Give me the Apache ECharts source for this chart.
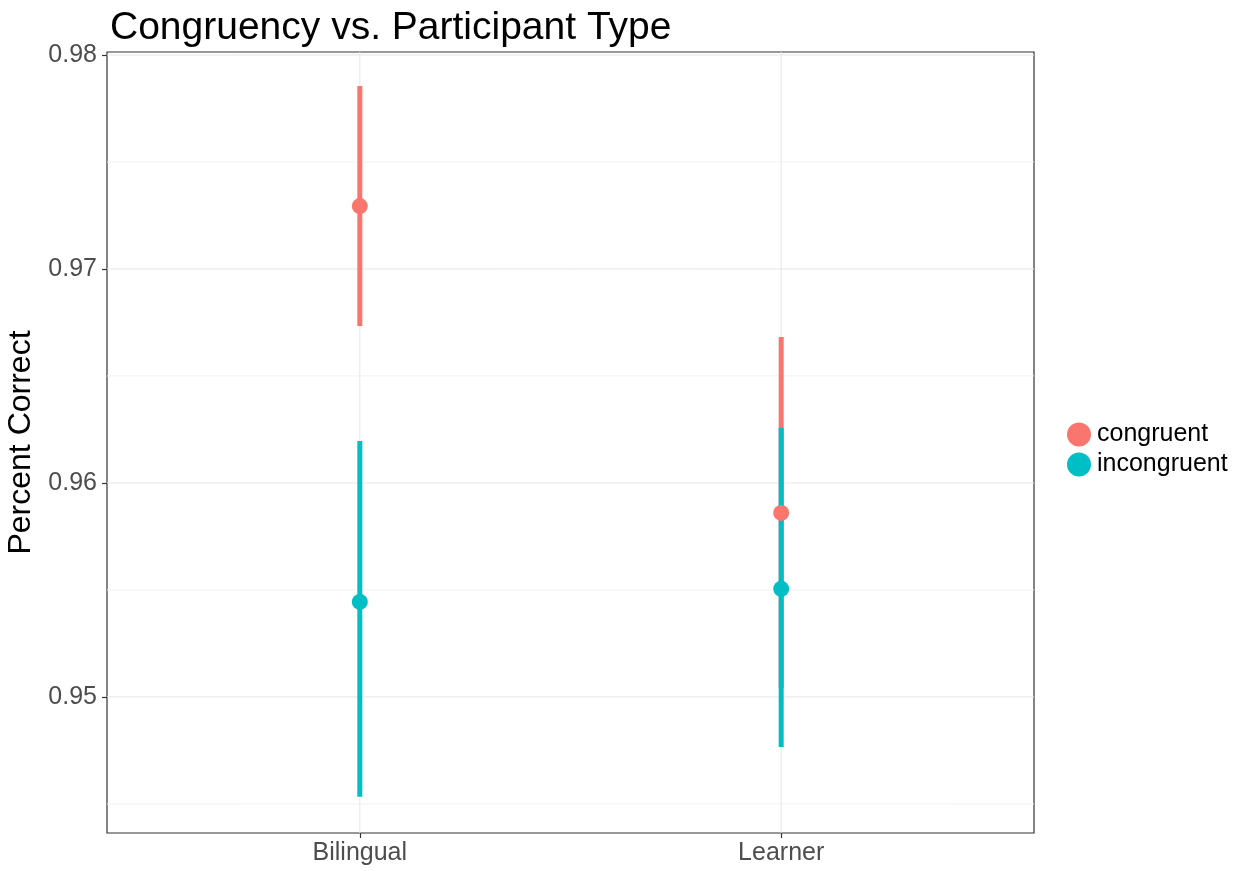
<!DOCTYPE html>
<html>
<head>
<meta charset="utf-8">
<script src="https://cdn.jsdelivr.net/npm/echarts@6/dist/echarts.min.js"></script>
<style>html,body{margin:0;padding:0;background:#fff;}#c{width:1245px;height:871px;}</style>
</head>
<body>
<div id="c"></div>
<script>
const categories = ['Bilingual', 'Learner'];
const groups = ['congruent', 'incongruent'];
const congruentMean = [0.97294, 0.9586];
const congruentLow = [0.96734, 0.9504];
const congruentHigh = [0.97855, 0.96682];
const incongruentMean = [0.95444, 0.95505];
const incongruentLow = [0.94533, 0.94766];
const incongruentHigh = [0.96196, 0.96257];
const yTicks = [0.95, 0.96, 0.97, 0.98];
const yMinor = [0.945, 0.955, 0.965, 0.975];
const yRange = [0.94364, 0.98014];
const xRange = [0.4, 2.6];
const colors = ['#F8766D', '#00BFC4'];

const xPos = categories.map((c, i) => i + 1);
const FONT = '"Liberation Sans", Arial, sans-serif';

function hLines(vals, color) {
  return {
    type: 'custom', silent: true, z: 1,
    data: vals.map(v => [v]),
    renderItem: function (params, api) {
      const v = api.value(0);
      const p1 = api.coord([xRange[0], v]);
      const p2 = api.coord([xRange[1], v]);
      return { type: 'line', shape: { x1: p1[0], y1: p1[1], x2: p2[0], y2: p2[1] },
        style: { stroke: color, lineWidth: 1 } };
    }
  };
}
function vLines(vals, color) {
  return {
    type: 'custom', silent: true, z: 1,
    data: vals.map(v => [v]),
    renderItem: function (params, api) {
      const v = api.value(0);
      const p1 = api.coord([v, yRange[0]]);
      const p2 = api.coord([v, yRange[1]]);
      return { type: 'line', shape: { x1: p1[0], y1: p1[1], x2: p2[0], y2: p2[1] },
        style: { stroke: color, lineWidth: 1 } };
    }
  };
}
function ranges(name, low, high, color) {
  return {
    name: name, type: 'custom', z: 3,
    data: xPos.map((x, i) => [x, low[i], high[i]]),
    renderItem: function (params, api) {
      const p1 = api.coord([api.value(0), api.value(1)]);
      const p2 = api.coord([api.value(0), api.value(2)]);
      return { type: 'line', shape: { x1: p1[0], y1: p1[1], x2: p2[0], y2: p2[1] },
        style: { stroke: color, lineWidth: 5 } };
    }
  };
}
function points(name, mean, color) {
  return {
    name: name, type: 'scatter', z: 5, symbol: 'circle', symbolSize: 16,
    itemStyle: { color: color, opacity: 1 },
    data: xPos.map((x, i) => [x, mean[i]])
  };
}

const chart = echarts.init(document.getElementById('c'));
chart.setOption({
  animation: false,
  backgroundColor: '#fff',
  title: {
    text: 'Congruency vs. Participant Type', left: 105, top: 4,
    textStyle: { fontFamily: FONT, fontSize: 39, fontWeight: 'normal', color: '#000' }
  },
  legend: {
    data: groups.map((g, i) => ({ name: g, icon: 'circle', itemStyle: { color: colors[i] } })),
    orient: 'vertical', left: 1062, top: 417, itemWidth: 24, itemHeight: 24, itemGap: 5,
    textStyle: { fontFamily: FONT, fontSize: 25, color: '#000', padding: [0, 0, 0, 1] }
  },
  grid: { left: 107, right: 211, top: 52, bottom: 38, show: true, borderColor: '#333', borderWidth: 1.2, containLabel: false, outerBoundsMode: 'none' },
  xAxis: {
    type: 'value', min: xRange[0], max: xRange[1],
    splitLine: { show: false },
    axisLine: { show: false },
    axisTick: { show: true, length: 5, customValues: xPos, lineStyle: { color: '#333', width: 1.2 } },
    axisLabel: { customValues: xPos, formatter: v => categories[Math.round(v) - 1] || '', fontFamily: FONT, fontSize: 25, color: '#4d4d4d', margin: 8 }
  },
  yAxis: {
    type: 'value', min: yRange[0], max: yRange[1],
    name: 'Percent Correct', nameLocation: 'middle', nameGap: 67, nameRotate: 90,
    nameTextStyle: { fontFamily: FONT, fontSize: 32, color: '#000' },
    splitLine: { show: false },
    axisLine: { show: false },
    axisTick: { show: true, length: 5, customValues: yTicks, lineStyle: { color: '#333', width: 1.2 } },
    axisLabel: { customValues: yTicks, formatter: v => v.toFixed(2), fontFamily: FONT, fontSize: 25, color: '#4d4d4d', margin: 10 }
  },
  series: [
    hLines(yMinor, '#f2f2f2'),
    hLines(yTicks, '#e6e6e6'),
    vLines(xPos, '#e6e6e6'),
    ranges(groups[0], congruentLow, congruentHigh, colors[0]),
    ranges(groups[1], incongruentLow, incongruentHigh, colors[1]),
    points(groups[0], congruentMean, colors[0]),
    points(groups[1], incongruentMean, colors[1])
  ]
});
</script>
</body>
</html>
